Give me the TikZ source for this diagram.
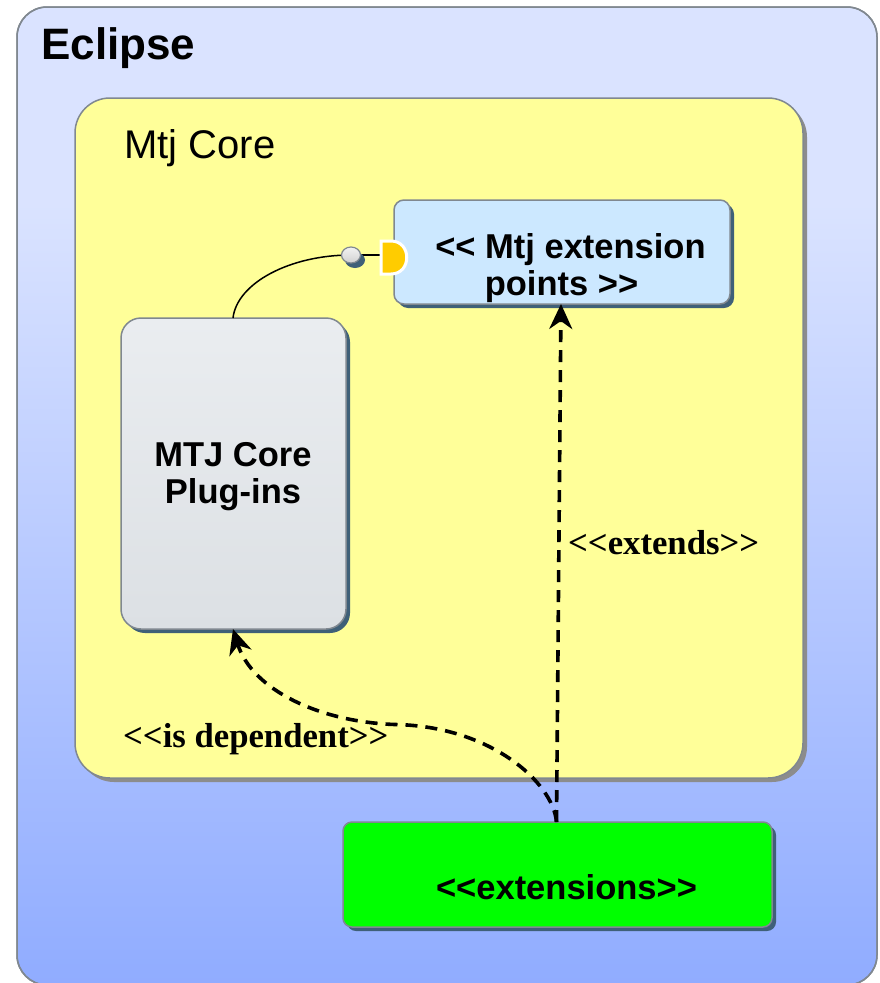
\documentclass[tikz,border=0pt]{standalone}
\usepackage{fontspec}
\setmainfont{Liberation Sans}
\newfontfamily\serifb{Liberation Serif}
\usetikzlibrary{arrows.meta}
\definecolor{edgegray}{HTML}{808890}
\definecolor{shadowblue}{HTML}{3F6078}
\definecolor{eclA}{HTML}{DAE3FF}
\definecolor{eclB}{HTML}{90ACFF}
\definecolor{yellowbg}{HTML}{FFFF99}
\pgfdeclareverticalshading{eclshade}{100bp}{color(0bp)=(eclB); color(25bp)=(eclB); color(65bp)=(eclA); color(75bp)=(eclA); color(100bp)=(eclA)}
\tikzset{x=1pt,y=-1pt,
 edge/.style={draw=edgegray,line width=1.5pt},
 title/.style={font=\fontsize{34.5}{37}\selectfont\bfseries,align=center,inner sep=0pt},
 dep/.style={line width=3.6pt,dash pattern=on 12pt off 8pt,-{Stealth[length=25pt,width=23pt,inset=8pt]}},
 rel/.style={font=\serifb\fontsize{34.7}{38}\selectfont\bfseries,anchor=west,inner sep=0pt}}
\begin{document}
\begin{tikzpicture}
\useasboundingbox (0,0) rectangle (880,983);
\fill[white] (0,0) rectangle (880,983);
% Eclipse
\path[edge,shading=eclshade,rounded corners=30pt] (17,7) rectangle (877,985);
\draw[edge,rounded corners=30pt] (17,7) rectangle (877,985);
\node (eclipse) [font=\fontsize{44}{48}\selectfont\bfseries,anchor=west,inner sep=0pt] at (41,48.5) {Eclipse};
% core
\fill[black!45] (79,102) [rounded corners=35pt] rectangle (807,782);
\draw[edge,fill=yellowbg,rounded corners=35pt] (75,98) rectangle (803,778);
\node (core) [font=\fontsize{40}{44}\selectfont,anchor=west,inner sep=0pt] at (124,148) {Mtj Core};
% ext points
\fill[shadowblue] (398,204) [rounded corners=10pt] rectangle (734,308);
\draw[edge,fill={rgb,255:red,204;green,232;blue,255},rounded corners=10pt] (394,200) rectangle (730,304);
\node (extpts) [title] at (570.5,268.5) {{<}{<} Mtj extension\\ points {>}{>}\hspace*{18pt}};
\coordinate (extbot) at (561,304);
% plugins
\fill[shadowblue] (125,322) [rounded corners=20pt] rectangle (350,633);
\draw[edge,top color={rgb,255:red,234;green,237;blue,240},bottom color={rgb,255:red,220;green,224;blue,228},rounded corners=20pt] (121,318) rectangle (346,629);
\node (plug) [title] at (233,476.5) {MTJ Core\\ Plug-ins};
\coordinate (plugtop) at (233,318);
\coordinate (plugbot) at (233,629);
% green
\fill[shadowblue] (347,826) [rounded corners=9pt] rectangle (776,931);
\draw[edge,fill={rgb,255:red,0;green,255;blue,0},rounded corners=9pt] (343,822) rectangle (772,927);
\node (green) [title] at (566.5,887) {{<}{<}extensions{>}{>}};
\coordinate (gtop) at (556.5,822);
% lollipop
\coordinate (ball) at (351,255);
\coordinate (socket) at (381,255);
\draw[line width=1.5pt] (plugtop) .. controls (237,283) and (290,255) .. (ball);
\draw[line width=2.2pt] (ball) -- (socket);
\fill[shadowblue] (355,260) ellipse [x radius=10pt,y radius=8pt];
\draw[edgegray,line width=1.2pt,top color=white!90!gray,bottom color=black!18] (ball) ellipse [x radius=9.5pt,y radius=8pt];
\draw[white,line width=3pt,fill={rgb,255:red,255;green,204;blue,0}] (381,241) -- (391,241) .. controls (412,241) and (412,274) .. (391,274) -- (381,274) -- cycle;
% deps
\draw[dep] (gtop) -- (extbot);
\draw[dep] (gtop) .. controls (553,782) and (490,726) .. (395,724.5) .. controls (320,722) and (252,690) .. (plugbot);
\node (ext) [rel] at (568,543) {<<extends>>};
\node (isdep) [rel] at (123,739) {<<is dependent>>};
\end{tikzpicture}
\end{document}
